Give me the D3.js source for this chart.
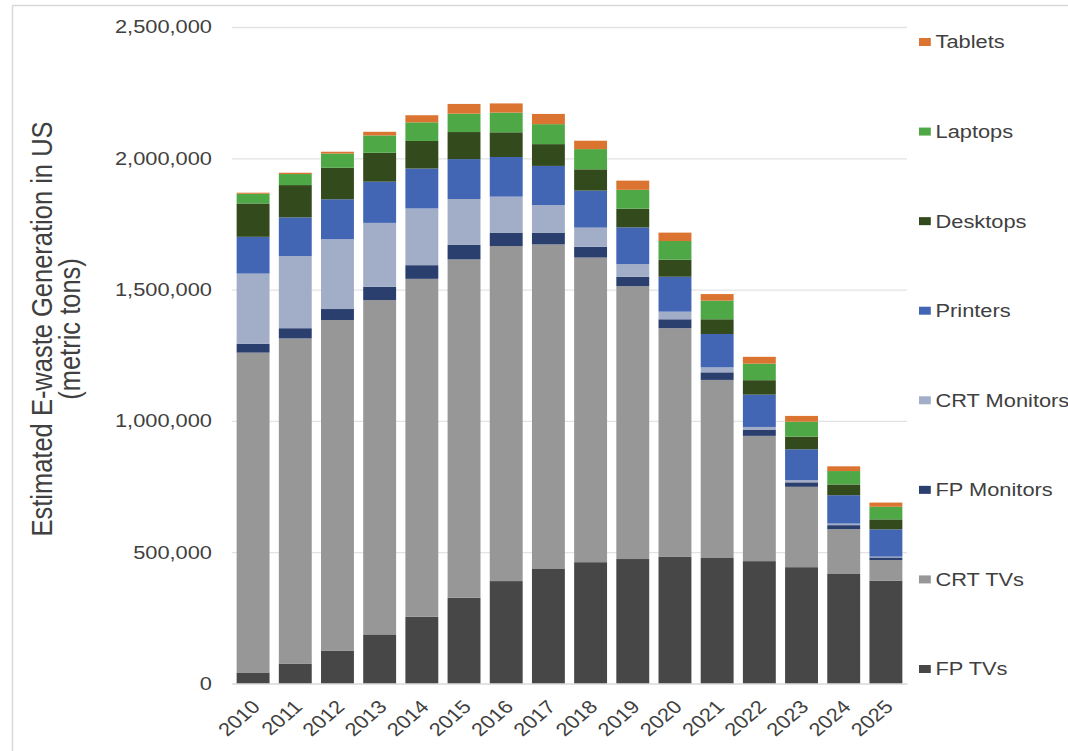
<!DOCTYPE html>
<html>
<head>
<meta charset="utf-8">
<script src="https://cdn.jsdelivr.net/npm/d3@7"></script>
<style>
  html, body { margin: 0; padding: 0; background: #ffffff; }
  svg { display: block; font-family: "Liberation Sans", Arial, sans-serif; }
</style>
</head>
<body>
<svg id="chart" width="1068" height="751"></svg>
<script>
// Estimated e-waste generation in the US, metric tons per year
const years = ["2010","2011","2012","2013","2014","2015","2016","2017",
               "2018","2019","2020","2021","2022","2023","2024","2025"];

const fpTVs       = [42000, 76000, 124000, 187000, 254000, 327000, 390000, 436000, 462000, 474000, 482000, 478000, 466000, 443000, 417000, 392000];
const crtTVs      = [1218000, 1238000, 1260000, 1273000, 1287000, 1288000, 1276000, 1236000, 1160000, 1039000, 871000, 678000, 477000, 306000, 171000, 78000];
const fpMonitors  = [34000, 39000, 42000, 51000, 52000, 55000, 51000, 45000, 41000, 36000, 34000, 29000, 24000, 17000, 15000, 10000];
const crtMonitors = [267000, 275000, 266000, 243000, 216000, 175000, 137000, 105000, 73000, 48000, 29000, 19000, 10000, 9000, 6000, 3000];
const printers    = [140000, 147000, 152000, 157000, 152000, 152000, 151000, 149000, 141000, 140000, 133000, 127000, 123000, 117000, 108000, 104000];
const desktops    = [127000, 123000, 120000, 110000, 105000, 103000, 94000, 83000, 81000, 71000, 65000, 56000, 55000, 48000, 41000, 38000];
const laptops     = [37000, 42000, 54000, 66000, 71000, 70000, 75000, 76000, 77000, 72000, 71000, 71000, 63000, 57000, 51000, 48000];
const tablets     = [4000, 5000, 7000, 14000, 27000, 37000, 35000, 39000, 32000, 35000, 32000, 25000, 26000, 22000, 18000, 16000];

const seriesNames = ["FP TVs","CRT TVs","FP Monitors","CRT Monitors","Printers","Desktops","Laptops","Tablets"];
const seriesValues = [fpTVs, crtTVs, fpMonitors, crtMonitors, printers, desktops, laptops, tablets];
const seriesColors = ["#474747","#979797","#2b3f6f","#a2adc7","#4266b4","#334a1d","#4fa846","#db7430"];
const yTicks = [0, 500000, 1000000, 1500000, 2000000, 2500000];

// table of rows for d3.stack
const rows = years.map((yr, i) => {
  const r = { year: yr };
  seriesNames.forEach((n, k) => { r[n] = seriesValues[k][i]; });
  return r;
});

const W = 1068, H = 751;
const SX = 1.18;               // the drawing is widened horizontally
const plotL = 232, plotR = 907; // screen pixels
const svg = d3.select("#chart");

// outer frame
svg.append("rect")
  .attr("x", 12.5).attr("y", 5.5)
  .attr("width", W).attr("height", H)
  .attr("fill", "none").attr("stroke", "#d9d9d9").attr("stroke-width", 1.5);

const root = svg.append("g").attr("transform", `scale(${SX},1)`);

const x = d3.scaleBand().domain(years)
  .range([plotL / SX, plotR / SX])
  .paddingInner(0.22).paddingOuter(0.11);
const y = d3.scaleLinear().domain([0, 2500000]).range([683.5, 27]);
const color = d3.scaleOrdinal().domain(seriesNames).range(seriesColors);

// y axis with gridlines
const yAxis = root.append("g")
  .attr("transform", `translate(${plotL / SX},0)`)
  .call(d3.axisLeft(y).tickValues(yTicks).tickFormat(d3.format(","))
        .tickSize(-(plotR - plotL) / SX).tickPadding(20 / SX));
yAxis.select(".domain").remove();
yAxis.selectAll(".tick line").attr("stroke", "#e3e3e3").attr("stroke-width", 1.3);
yAxis.selectAll(".tick text")
  .attr("fill", "#404040").attr("font-size", "18.5px")
  .attr("font-family", "Liberation Sans, Arial, sans-serif");

// stacked bars
const stacked = d3.stack().keys(seriesNames)(rows);
root.append("g").selectAll("g")
  .data(stacked)
  .join("g")
  .attr("fill", d => color(d.key))
  .selectAll("rect")
  .data(d => d)
  .join("rect")
  .attr("x", d => x(d.data.year))
  .attr("width", x.bandwidth())
  .attr("y", d => y(d[1]))
  .attr("height", d => y(d[0]) - y(d[1]));

// x axis labels
const xAxis = root.append("g")
  .attr("transform", `translate(0,${y(0)})`)
  .call(d3.axisBottom(x).tickSize(0));
xAxis.select(".domain").attr("stroke", "#d9d9d9");
xAxis.selectAll(".tick text")
  .attr("fill", "#404040").attr("font-size", "18.5px")
  .attr("font-family", "Liberation Sans, Arial, sans-serif")
  .attr("text-anchor", "end")
  .attr("x", 0).attr("y", 0).attr("dy", "0.35em")
  .attr("transform", "translate(2.5,20) rotate(-45)");

// legend, top entry is the top of the stack
const legendNames = seriesNames.slice().reverse();
const legend = root.append("g");
const legendY = d3.scalePoint().domain(legendNames).range([42, 669]);
const item = legend.selectAll("g").data(legendNames).join("g")
  .attr("transform", d => `translate(${919 / SX},${legendY(d)})`);
item.append("rect")
  .attr("x", 0).attr("y", -4).attr("width", 10).attr("height", 8)
  .attr("fill", d => color(d));
item.append("text")
  .attr("x", 14).attr("y", 0).attr("dy", "0.35em")
  .attr("font-size", "18.5px").attr("fill", "#404040")
  .text(d => d);

// y axis title
const title = root.append("g").attr("transform", `translate(0,329) rotate(-90)`);
title.append("text")
  .attr("x", 0).attr("y", 52 / SX)
  .attr("text-anchor", "middle").attr("font-size", "25.5px").attr("fill", "#404040")
  .text("Estimated E-waste Generation in US");
title.append("text")
  .attr("x", 0).attr("y", 80 / SX)
  .attr("text-anchor", "middle").attr("font-size", "25.5px").attr("fill", "#404040")
  .text("(metric tons)");
</script>
</body>
</html>
